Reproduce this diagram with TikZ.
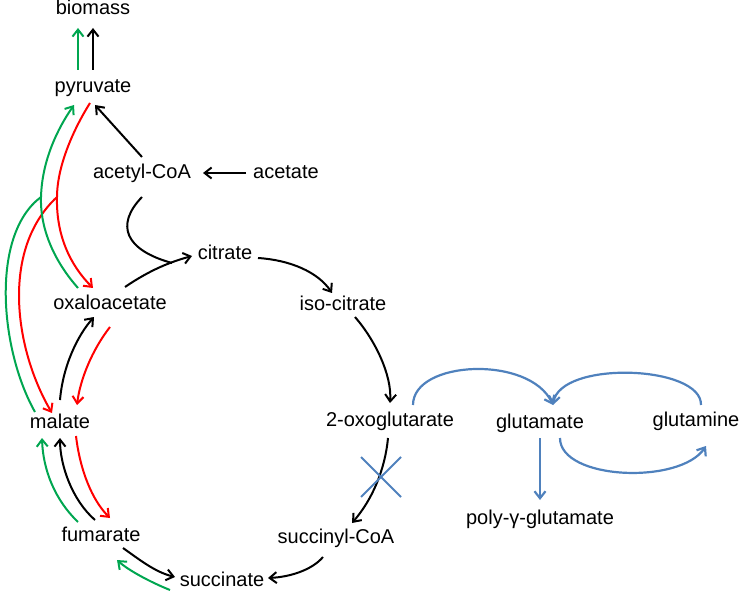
\documentclass[tikz,border=0pt]{standalone}
\usepackage{fontspec}
\setmainfont{Liberation Sans}
\usetikzlibrary{arrows.meta}
\usetikzlibrary{shapes.misc}
\definecolor{pgreen}{RGB}{0,166,80}
\definecolor{pred}{RGB}{255,0,0}
\definecolor{pblue}{RGB}{79,129,189}
\tikzset{met/.style={anchor=base,inner sep=0pt,font=\fontsize{20}{24}\selectfont},
 flux/.style={line width=2pt,line join=round,-{Straight Barb[length=7pt,width=11pt]}},
 gflux/.style={flux,draw=pgreen},
 rflux/.style={flux,draw=pred},
 bflux/.style={flux,draw=pblue,line width=2.2pt},
 }

\begin{document}
\begin{tikzpicture}[x=1pt,y=-1pt]
        \useasboundingbox (0,0) rectangle (740,591);
        \foreach \n/\x/\y/\t in {bio/93/15/biomass, pyr/93/93/pyruvate,
            acoa/142/179/acetyl-CoA, acet/286/179/acetate, cit/225/260/citrate,
            oxa/110/309/oxaloacetate, iso/343/311/iso-citrate, mal/60/428/malate,
            oxo/390/426/2-oxoglutarate, glu/540/428/glutamate, gln/696/426/glutamine,
            pgg/540/524/poly-γ-glutamate, scoa/336/543/succinyl-CoA,
            fum/101/541/fumarate, suc/222/586/succinate} {
            \node[met] (\n) at (\x,\y) {\t};
        }
        \coordinate (cjoin) at (172,263);
        \coordinate (jr) at (57,197);
        \coordinate (jg) at (41,197);

        % to biomass
        \draw[gflux] ([shift={(-15,-23)}]pyr.base) -- ([shift={(-15,13)}]bio.base);
        \draw[flux] ([shift={(0,-23)}]pyr.base) -- ([shift={(0,13)}]bio.base);
        \draw[flux] ([shift={(0,-22)}]acoa.base) -- ([shift={(2,12)}]pyr.base);
        \draw[flux] ([shift={(-40,-6)}]acet.base) -- ([shift={(61,-6)}]acoa.base);

        % TCA cycle
        \draw[flux] ([shift={(15,-22)}]oxa.base) .. controls (150,270) and (170,262) .. ([shift={(-33,-4)}]cit.base);
        \draw[line width=2pt] ([shift={(0,18)}]acoa.base) .. controls (115,225) and (125,250) .. (cjoin);
        \draw[flux] ([shift={(33,-2)}]cit.base) .. controls (290,260) and (318,272) .. ([shift={(-11,-18)}]iso.base);
        \draw[flux] ([shift={(12,6)}]iso.base) .. controls (375,340) and (392,375) .. ([shift={(0,-23)}]oxo.base);
        \draw[flux] ([shift={(-2,12)}]oxo.base) .. controls (385,470) and (372,500) .. ([shift={(16,-20)}]scoa.base);
        \node[cross out,draw=pblue,line width=2pt,minimum size=38pt,inner sep=0pt] (block) at (381,477) {};
        \draw[flux] ([shift={(-13,14)}]scoa.base) .. controls (312,570) and (290,577) .. ([shift={(46,-8)}]suc.base);
        \draw[flux] ([shift={(22,7)}]fum.base) .. controls (140,560) and (155,572) .. ([shift={(-47,-9)}]suc.base);
        \draw[gflux] ([shift={(-52,4)}]suc.base) .. controls (150,582) and (128,570) .. ([shift={(16,19)}]fum.base);
        \draw[flux] ([shift={(-6,-21)}]fum.base) .. controls (72,500) and (60,465) .. ([shift={(0,10)}]mal.base);
        \draw[gflux] ([shift={(-23,-19)}]fum.base) .. controls (55,500) and (43,470) .. ([shift={(-18,10)}]mal.base);
        \draw[rflux] ([shift={(16,8)}]mal.base) .. controls (80,470) and (92,500) .. ([shift={(9,-23)}]fum.base);
        \draw[flux] ([shift={(0,-28)}]mal.base) .. controls (63,365) and (78,335) .. ([shift={(-16,8)}]oxa.base);
        \draw[rflux] ([shift={(0,18)}]oxa.base) .. controls (92,350) and (80,380) .. ([shift={(17,-23)}]mal.base);

        % pyruvate node
        \draw[rflux] ([shift={(-3,10)}]pyr.base) .. controls (70,135) and (57,170) .. (jr)
            .. controls (56,235) and (70,265) .. ([shift={(-17,-21)}]oxa.base);
        \draw[rflux] (jr) .. controls (0,250) and (15,350) .. ([shift={(-8,-15)}]mal.base);
        \draw[gflux] ([shift={(-25,-16)}]mal.base) .. controls (0,350) and (-10,235) .. (jg)
            .. controls (42,160) and (58,128) .. ([shift={(-19,12)}]pyr.base);
        \draw[line width=2pt,pgreen] ([shift={(-32,-21)}]oxa.base) .. controls (55,262) and (40,230) .. (jg);

        % glutamate
        \draw[bflux] ([shift={(23,-21)}]oxo.base) .. controls (413,360) and (530,355) .. ([shift={(13,-23)}]glu.base);
        \draw[bflux] ([shift={(5,-21)}]gln.base) .. controls (702,365) and (560,360) .. ([shift={(13,-23)}]glu.base);
        \draw[bflux] ([shift={(20,10)}]glu.base) .. controls (560,480) and (680,485) .. ([shift={(10,20)}]gln.base);
        \draw[bflux] ([shift={(0,10)}]glu.base) -- ([shift={(0,-24)}]pgg.base);
    \end{tikzpicture}
\end{document}
